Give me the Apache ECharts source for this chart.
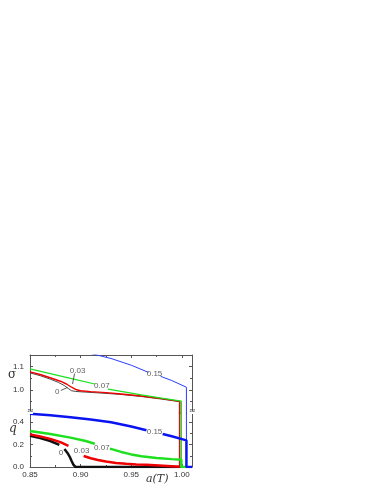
<!DOCTYPE html>
<html>
<head>
<meta charset="utf-8">
<script src="https://cdn.jsdelivr.net/npm/echarts@6/dist/echarts.min.js"></script>
<style>html,body{margin:0;padding:0;background:#fff;}#c{width:382px;height:494px;}</style>
</head>
<body>
<div id="c"></div>
<script>
// ---------- data ----------
const xTickLabels = ['0.85', '0.90', '0.95', '1.00'];
const sigmaTickLabels = ['1.0', '1.1'];
const qTickLabels = ['0.0', '0.2', '0.4'];

// sigma(a(T)) curves, upper panel  (x, sigma)
const sigma_0 = [[0.85,1.073],[0.86,1.061],[0.87,1.046],[0.878,1.032],[0.884,1.018],[0.888,1.005],[0.891,0.996],[0.895,0.993],[0.905,0.990],[0.92,0.986],[0.94,0.980],[0.96,0.971],[0.98,0.960],[0.9975,0.949],[0.9975,0]];
const sigma_003 = [[0.85,1.077],[0.86,1.066],[0.87,1.052],[0.88,1.037],[0.886,1.025],[0.891,1.011],[0.896,1.000],[0.90,0.996],[0.91,0.992],[0.925,0.988],[0.94,0.982],[0.96,0.973],[0.98,0.962],[0.998,0.950],[0.998,0]];
const sigma_007 = [[0.85,1.090],[0.87,1.070],[0.89,1.049],[0.914,1.025],'-',[0.927,1.003],[0.94,0.993],[0.96,0.978],[0.98,0.964],[0.9995,0.951],[0.9995,0]];
const sigma_015 = [[0.905,1.162],[0.93,1.135],[0.95,1.106],[0.967,1.075],'-',[0.979,1.058],[0.99,1.040],[1.0045,1.011],[1.0045,0]];

// q(a(T)) curves, lower panel  (x, q)
const q_0 = [[0.85,0.278],[0.86,0.257],[0.87,0.231],[0.879,0.196],'-',[0.884,0.160],[0.887,0.125],[0.889,0.095],[0.891,0.055],[0.893,0.018],[0.895,0.0],[0.9975,0.0]];
const q_003 = [[0.85,0.290],[0.86,0.272],[0.87,0.250],[0.88,0.221],[0.888,0.188],'-',[0.903,0.098],[0.91,0.078],[0.917,0.063],[0.925,0.049],[0.935,0.036],[0.945,0.028],[0.955,0.023],[0.965,0.019],[0.9655,0.003],[0.998,0.003],[0.998,0]];
const q_007 = [[0.85,0.320],[0.87,0.293],[0.89,0.261],[0.905,0.231],[0.914,0.207],'-',[0.929,0.163],[0.94,0.134],[0.95,0.112],[0.96,0.096],[0.975,0.081],[0.99,0.070],[0.9995,0.064],[0.9995,0],[1.0045,0]];
const q_015 = [[0.85,0.474],[0.87,0.459],[0.89,0.442],[0.91,0.422],[0.93,0.398],[0.95,0.360],[0.965,0.326],'-',[0.981,0.294],[0.99,0.273],[1.0045,0.237],[1.0045,0],[1.01,0]];

// curve annotations
const upperLabels = [[0.897,1.084,'0.03'],[0.921,1.018,'0.07'],[0.877,0.993,'0'],[0.973,1.067,'0.15']];
const lowerLabels = [[0.8805,0.130,'0'],[0.901,0.140,'0.03'],[0.921,0.175,'0.07'],[0.973,0.317,'0.15']];
const leader_003 = [[0.894,1.070],[0.892,1.025]];
const leader_0 = [[0.8805,0.997],[0.887,1.010]];

// ---------- chart ----------
const L = 30, W = 162, T1 = 355, H1 = 58, T2 = 413, H2 = 54;
const axisCol = '#555', txtCol = '#333';
const tickFont = {color: txtCol, fontSize: 8, fontFamily: 'Liberation Sans, Arial, sans-serif'};
function fmt(list) {
  return v => { for (const s of list) { if (Math.abs(parseFloat(s) - v) < 1e-6) return s; } return ''; };
}

const chart = echarts.init(document.getElementById('c'), null, {renderer: 'canvas'});
const xBase = {type: 'value', min: 0.85, max: 1.01, interval: 0.05,
  axisLine: {show: true, lineStyle: {color: axisCol, width: 1}},
  axisTick: {show: true, inside: true, length: 3, lineStyle: {color: axisCol}},
  minorTick: {show: true, splitNumber: 2, length: 2, lineStyle: {color: axisCol}},
  splitLine: {show: false}};
const yBase = {type: 'value',
  axisLine: {show: true, lineStyle: {color: axisCol, width: 1}},
  axisTick: {show: true, inside: true, length: 3, lineStyle: {color: axisCol}},
  minorTick: {show: true, splitNumber: 2, length: 2, lineStyle: {color: axisCol}},
  splitLine: {show: false}};

function lineS(data, xi, yi, color, width, z) {
  return {type: 'line', xAxisIndex: xi, yAxisIndex: yi, data: data, showSymbol: false, symbol: 'none',
    connectNulls: false, clip: true, z: z || 2, lineStyle: {color: color, width: width}, silent: true};
}
function labelS(data, xi, yi) {
  return {type: 'scatter', xAxisIndex: xi, yAxisIndex: yi, data: data, symbolSize: 0, z: 10, silent: true,
    label: {show: true, position: 'inside', formatter: p => p.data[2], color: txtCol, fontSize: 8,
      fontFamily: 'Liberation Sans, Arial, sans-serif'}};
}

const cBlack = '#111', cRed = '#ee0000', cGreen = '#1ee01e', cBlue = '#0a14f0';

chart.setOption({
  animation: false,
  backgroundColor: '#fff',
  grid: [
    {left: L, top: T1, width: W, height: H1},
    {left: L, top: T2, width: W, height: H2}
  ],
  xAxis: [
    Object.assign({}, xBase, {gridIndex: 0, position: 'top', axisLabel: {show: false}}),
    Object.assign({}, xBase, {gridIndex: 1, position: 'bottom',
      axisLabel: Object.assign({show: true, margin: 4, formatter: fmt(xTickLabels)}, tickFont)})
  ],
  yAxis: [
    Object.assign({}, yBase, {gridIndex: 0, position: 'left', min: 0.9, max: 1.15, interval: 0.1,
      axisLabel: Object.assign({show: true, margin: 6, formatter: fmt(sigmaTickLabels)}, tickFont)}),
    Object.assign({}, yBase, {gridIndex: 0, position: 'right', min: 0.9, max: 1.15, interval: 0.1, axisLabel: {show: false}}),
    Object.assign({}, yBase, {gridIndex: 1, position: 'left', min: 0, max: 0.48, interval: 0.2,
      axisLabel: Object.assign({show: true, margin: 6, formatter: fmt(qTickLabels)}, tickFont)}),
    Object.assign({}, yBase, {gridIndex: 1, position: 'right', min: 0, max: 0.48, interval: 0.2, axisLabel: {show: false}})
  ],
  series: [
    // upper panel: sigma
    lineS(sigma_0, 0, 0, '#333', 0.9, 2),
    lineS(sigma_003, 0, 0, cRed, 1.4, 3),
    lineS(sigma_007, 0, 0, cGreen, 1.2, 4),
    lineS(sigma_015, 0, 0, '#2a3cff', 1, 5),
    lineS(leader_003, 0, 0, '#333', 0.8, 6),
    lineS(leader_0, 0, 0, '#333', 0.8, 6),
    labelS(upperLabels, 0, 0),
    // lower panel: continuation of the sigma drops
    lineS(sigma_0, 1, 2, '#444', 1, 2),
    lineS(sigma_003, 1, 2, cRed, 1.2, 2),
    lineS(sigma_007, 1, 2, cGreen, 1.2, 2),
    lineS(sigma_015, 1, 2, '#2a3cff', 1, 2),
    // lower panel: q
    lineS(q_0, 1, 2, cBlack, 2.5, 3),
    lineS(q_003, 1, 2, cRed, 2.5, 4),
    lineS(q_007, 1, 2, cGreen, 2.5, 5),
    lineS(q_015, 1, 2, cBlue, 2.5, 6),
    labelS(lowerLabels, 1, 2)
  ],
  graphic: [
    {type: 'text', left: 8, top: 369, style: {text: 'σ', fontSize: 12, fill: txtCol, fontFamily: 'DejaVu Serif, serif'}},
    {type: 'text', left: 9, top: 423, style: {text: 'q', fontSize: 12, fontStyle: 'italic', fill: txtCol, fontFamily: 'DejaVu Serif, serif'}},
    {type: 'text', left: 146, top: 474, style: {text: 'a(T)', fontSize: 11, fontStyle: 'italic', fill: txtCol, fontFamily: 'DejaVu Serif, serif'}},
    {type: 'rect', shape: {x: L - 3, y: T2 - 2, width: 6, height: 3}, style: {fill: '#fff'}, z: 50},
    {type: 'rect', shape: {x: L + W - 5, y: T2 - 2, width: 8, height: 3}, style: {fill: '#fff'}, z: 50},
    {type: 'text', x: L - 3, y: T2 - 6, style: {text: '≈', fontSize: 8, fill: txtCol, fontFamily: 'DejaVu Sans'}, z: 51},
    {type: 'text', x: L + W - 3, y: T2 - 6, style: {text: '≈', fontSize: 8, fill: txtCol, fontFamily: 'DejaVu Sans'}, z: 51}
  ]
});
</script>
</body>
</html>
